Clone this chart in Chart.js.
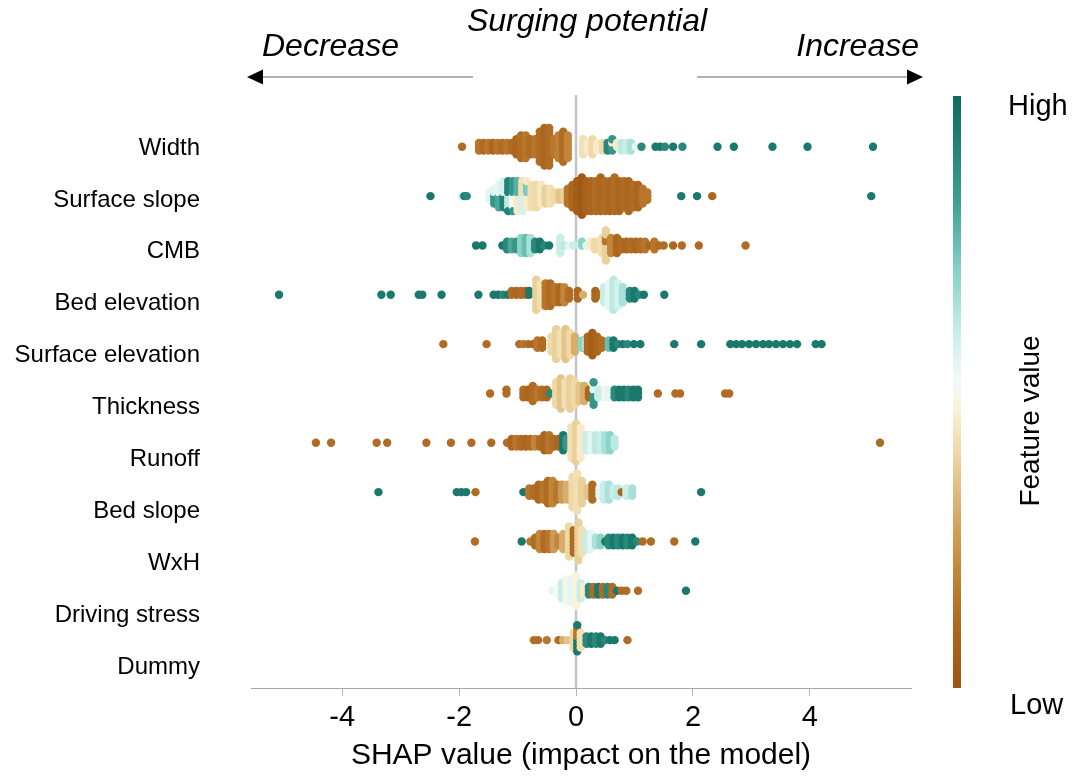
<!DOCTYPE html>
<html>
<head>
<meta charset="utf-8">
<script src="https://cdn.jsdelivr.net/npm/chart.js@4"></script>
<style>
  html, body { margin: 0; padding: 0; background: #fff; }
  canvas { display: block; }
</style>
</head>
<body>
<canvas id="shapChart" width="1083" height="776"></canvas>
<script>
// feature names, top to bottom
const features = ['Width', 'Surface slope', 'CMB', 'Bed elevation', 'Surface elevation',
  'Thickness', 'Runoff', 'Bed slope', 'WxH', 'Driving stress', 'Dummy'];
const xTicks = [-4, -2, 0, 2, 4];

// each entry: [shap value, feature value (0 low .. 1 high), number of samples]
const widthVals = [
  [-1.95, 0.12, 1],
  [-1.66, 0.15, 3], [-1.58, 0.12, 3], [-1.50, 0.15, 3], [-1.42, 0.10, 3], [-1.34, 0.15, 3],
  [-1.26, 0.12, 3], [-1.18, 0.15, 3], [-1.10, 0.12, 3],
  [-1.02, 0.10, 5], [-0.94, 0.12, 7], [-0.86, 0.15, 7], [-0.78, 0.12, 5], [-0.70, 0.15, 5],
  [-0.62, 0.12, 9], [-0.54, 0.10, 11], [-0.46, 0.12, 11], [-0.38, 0.15, 5],
  [-0.30, 0.18, 7], [-0.22, 0.12, 9], [-0.14, 0.20, 7],
  [0.12, 0.42, 5], [0.20, 0.45, 3], [0.28, 0.40, 5], [0.36, 0.45, 3], [0.46, 0.40, 3],
  [0.54, 0.90, 3], [0.62, 0.85, 3], [0.62, 0.45, 1], [0.70, 0.45, 2], [0.78, 0.62, 3],
  [0.86, 0.60, 3], [0.94, 0.65, 3], [1.02, 0.55, 1],
  [1.12, 0.90, 1], [1.36, 0.95, 1], [1.44, 0.95, 1], [1.52, 0.90, 1], [1.66, 0.95, 1],
  [1.82, 0.90, 1], [2.42, 0.95, 1], [2.70, 0.95, 1], [3.36, 0.95, 1], [3.96, 0.95, 1],
  [5.08, 0.95, 1]
];
const surfaceSlopeVals = [
  [-2.49, 0.95, 1], [-1.95, 0.60, 1], [-1.91, 0.95, 1], [-1.87, 0.90, 1],
  [-1.48, 0.55, 3], [-1.40, 0.85, 3], [-1.40, 0.55, 2], [-1.32, 0.80, 4], [-1.32, 0.55, 3],
  [-1.24, 0.92, 4], [-1.24, 0.58, 4], [-1.16, 0.62, 4], [-1.16, 0.92, 5],
  [-1.08, 0.52, 4], [-1.08, 0.85, 5], [-1.00, 0.45, 5], [-1.00, 0.78, 4],
  [-0.92, 0.58, 5], [-0.92, 0.42, 4], [-0.84, 0.45, 5], [-0.84, 0.72, 3],
  [-0.76, 0.42, 7], [-0.68, 0.40, 7], [-0.60, 0.44, 6], [-0.52, 0.38, 5],
  [-0.44, 0.42, 5], [-0.36, 0.40, 3], [-0.28, 0.35, 3], [-0.20, 0.38, 3],
  [-0.14, 0.15, 5], [-0.06, 0.10, 7], [0.02, 0.05, 9], [0.10, 0.02, 11], [0.18, 0.08, 9],
  [0.26, 0.10, 9], [0.34, 0.12, 9], [0.42, 0.10, 10], [0.50, 0.12, 9], [0.58, 0.10, 9],
  [0.66, 0.12, 10], [0.74, 0.10, 9], [0.82, 0.12, 8], [0.90, 0.10, 9], [0.98, 0.12, 7],
  [1.06, 0.10, 7], [1.14, 0.15, 5], [1.22, 0.15, 3],
  [1.80, 0.95, 1], [2.07, 0.95, 1], [2.33, 0.10, 1], [5.05, 0.95, 1]
];
const cmbVals = [
  [-1.71, 0.95, 1], [-1.60, 0.95, 1],
  [-1.26, 0.95, 1], [-1.18, 0.90, 3], [-1.10, 0.80, 3], [-1.02, 0.85, 3], [-0.94, 0.70, 5],
  [-0.86, 0.75, 5], [-0.78, 0.65, 5], [-0.70, 0.90, 3], [-0.62, 0.95, 3], [-0.54, 0.90, 1],
  [-0.46, 0.95, 1], [-0.27, 0.60, 5], [-0.20, 0.62, 1], [-0.12, 0.55, 1], [-0.04, 0.60, 1],
  [0.10, 0.70, 2], [0.18, 0.55, 1], [0.25, 0.45, 2], [0.32, 0.40, 3],
  [0.44, 0.42, 5], [0.51, 0.38, 7], [0.51, 0.15, 2],
  [0.60, 0.20, 5], [0.70, 0.10, 5], [0.78, 0.12, 3], [0.86, 0.10, 3], [0.94, 0.12, 3],
  [1.02, 0.10, 3], [1.10, 0.12, 3], [1.18, 0.15, 3], [1.26, 0.10, 1], [1.34, 0.15, 3],
  [1.42, 0.12, 1], [1.50, 0.12, 1], [1.66, 0.10, 1], [1.81, 0.12, 1], [2.10, 0.12, 1],
  [2.90, 0.12, 1]
];
const bedElevationVals = [
  [-5.08, 0.95, 1], [-3.33, 0.95, 1], [-3.17, 0.95, 1], [-2.69, 0.95, 1], [-2.63, 0.95, 1],
  [-2.30, 0.95, 1], [-1.67, 0.95, 1], [-1.41, 0.95, 1], [-1.33, 0.95, 1], [-1.25, 0.90, 1],
  [-1.17, 0.95, 1], [-1.10, 0.12, 2], [-1.02, 0.10, 2], [-0.94, 0.12, 2], [-0.86, 0.10, 2],
  [-0.80, 0.95, 2], [-0.68, 0.38, 9], [-0.60, 0.42, 7],
  [-0.52, 0.15, 7], [-0.44, 0.12, 7], [-0.36, 0.15, 5], [-0.28, 0.10, 5], [-0.20, 0.20, 5],
  [-0.12, 0.12, 3], [0.03, 0.10, 3], [0.12, 0.30, 1], [0.33, 0.10, 3], [0.40, 0.12, 1],
  [0.48, 0.60, 5], [0.56, 0.55, 7], [0.64, 0.62, 9], [0.72, 0.58, 7], [0.80, 0.65, 5],
  [0.92, 0.90, 3], [1.00, 0.95, 3], [1.08, 0.90, 1], [1.16, 0.95, 1], [1.51, 0.95, 1]
];
const surfaceElevationVals = [
  [-2.27, 0.12, 1], [-1.53, 0.12, 1], [-0.97, 0.12, 1], [-0.90, 0.15, 1], [-0.82, 0.12, 1],
  [-0.74, 0.10, 1], [-0.66, 0.15, 3], [-0.58, 0.12, 3],
  [-0.42, 0.40, 5], [-0.34, 0.38, 9], [-0.26, 0.42, 7], [-0.18, 0.35, 9], [-0.10, 0.40, 7],
  [-0.02, 0.30, 5], [0.10, 0.70, 3], [0.18, 0.55, 3], [0.20, 0.10, 5], [0.28, 0.05, 7],
  [0.36, 0.10, 5], [0.44, 0.12, 3], [0.56, 0.75, 3], [0.64, 0.95, 3], [0.72, 0.90, 1],
  [0.80, 0.95, 1], [0.88, 0.90, 1], [0.99, 0.95, 1], [1.10, 0.95, 1], [1.68, 0.95, 1],
  [2.14, 0.95, 1], [2.64, 0.95, 1], [2.74, 0.95, 1], [2.84, 0.95, 1], [2.96, 0.95, 1],
  [3.08, 0.95, 1], [3.20, 0.95, 1], [3.30, 0.95, 1], [3.42, 0.95, 1], [3.54, 0.95, 1],
  [3.66, 0.95, 1], [3.78, 0.95, 1], [4.10, 0.95, 1], [4.20, 0.95, 1]
];
const thicknessVals = [
  [-1.47, 0.12, 1], [-1.19, 0.12, 2], [-0.90, 0.12, 3], [-0.82, 0.10, 3], [-0.74, 0.12, 5],
  [-0.66, 0.15, 3], [-0.58, 0.12, 3], [-0.50, 0.10, 3], [-0.44, 0.90, 1],
  [-0.34, 0.40, 7], [-0.26, 0.35, 9], [-0.18, 0.42, 7], [-0.10, 0.38, 9], [-0.02, 0.40, 7],
  [0.06, 0.35, 5], [0.14, 0.30, 5], [0.22, 0.10, 3], [0.30, 0.85, 5], [0.30, 0.55, 2],
  [0.38, 0.60, 3], [0.50, 0.50, 3], [0.56, 0.55, 3],
  [0.66, 0.90, 3], [0.74, 0.95, 3], [0.82, 0.95, 3], [0.90, 0.90, 3], [0.98, 0.95, 3],
  [1.06, 0.95, 3], [1.40, 0.12, 1], [1.70, 0.12, 1], [1.78, 0.12, 1], [2.55, 0.12, 1],
  [2.62, 0.12, 1]
];
const runoffVals = [
  [-4.45, 0.12, 1], [-4.19, 0.12, 1], [-3.41, 0.12, 1], [-3.23, 0.12, 1], [-2.56, 0.12, 1],
  [-2.14, 0.12, 1], [-1.79, 0.12, 1], [-1.45, 0.12, 1],
  [-1.18, 0.12, 1], [-1.10, 0.10, 3], [-1.02, 0.15, 3], [-0.94, 0.12, 3], [-0.86, 0.10, 3],
  [-0.78, 0.12, 3], [-0.70, 0.20, 3], [-0.62, 0.12, 3], [-0.54, 0.10, 5], [-0.46, 0.15, 5],
  [-0.38, 0.12, 3], [-0.30, 0.10, 3], [-0.22, 0.95, 5], [-0.16, 0.85, 3],
  [-0.08, 0.42, 9], [0.00, 0.38, 11], [0.08, 0.45, 9],
  [0.18, 0.60, 5], [0.26, 0.55, 5], [0.34, 0.62, 5], [0.42, 0.60, 5], [0.50, 0.65, 5],
  [0.58, 0.70, 5], [0.66, 0.62, 3], [5.20, 0.12, 1]
];
const bedSlopeVals = [
  [-3.38, 0.95, 1], [-2.04, 0.95, 1], [-1.96, 0.95, 1], [-1.88, 0.95, 1], [-1.72, 0.12, 1],
  [-0.90, 0.95, 1], [-0.80, 0.15, 3], [-0.72, 0.12, 3], [-0.64, 0.10, 5], [-0.56, 0.15, 5],
  [-0.48, 0.12, 7], [-0.40, 0.20, 7], [-0.32, 0.15, 5], [-0.24, 0.25, 5], [-0.16, 0.30, 5],
  [-0.06, 0.40, 9], [0.02, 0.42, 11], [0.10, 0.38, 7], [0.20, 0.35, 3], [0.28, 0.12, 5],
  [0.40, 0.55, 3], [0.48, 0.60, 5], [0.56, 0.65, 5], [0.64, 0.60, 3], [0.72, 0.62, 3],
  [0.78, 0.10, 1], [0.86, 0.60, 3], [0.96, 0.65, 3], [2.14, 0.95, 1]
];
const wxhVals = [
  [-1.73, 0.12, 1], [-0.93, 0.95, 1], [-0.78, 0.15, 1], [-0.70, 0.12, 3], [-0.62, 0.20, 5],
  [-0.54, 0.12, 5], [-0.46, 0.15, 5], [-0.38, 0.25, 5], [-0.30, 0.20, 3], [-0.22, 0.30, 5],
  [-0.12, 0.40, 9], [-0.04, 0.12, 7], [0.04, 0.38, 11], [0.10, 0.42, 7],
  [0.18, 0.60, 5], [0.26, 0.55, 5], [0.34, 0.65, 3], [0.42, 0.70, 3],
  [0.50, 0.95, 1], [0.56, 0.90, 3], [0.64, 0.95, 3], [0.72, 0.90, 3], [0.80, 0.95, 3],
  [0.88, 0.90, 3], [0.96, 0.95, 3], [1.04, 0.90, 1], [1.14, 0.12, 1], [1.28, 0.12, 1],
  [1.68, 0.12, 1], [2.04, 0.95, 1]
];
const drivingStressVals = [
  [-0.40, 0.55, 1], [-0.32, 0.52, 3], [-0.24, 0.60, 5], [-0.16, 0.50, 7], [-0.08, 0.55, 7],
  [0.00, 0.48, 9], [0.08, 0.60, 5], [0.14, 0.45, 3],
  [0.22, 0.90, 3], [0.30, 0.12, 3], [0.38, 0.95, 3], [0.46, 0.12, 3], [0.54, 0.90, 3],
  [0.62, 0.12, 3], [0.70, 0.95, 1], [0.78, 0.12, 1], [0.86, 0.12, 1], [1.06, 0.12, 1],
  [1.88, 0.95, 1]
];
const dummyVals = [
  [-0.72, 0.12, 1], [-0.65, 0.12, 1], [-0.50, 0.15, 1], [-0.30, 0.12, 1], [-0.22, 0.30, 1],
  [-0.14, 0.35, 1], [-0.04, 0.40, 5], [0.02, 0.95, 5], [0.02, 0.15, 3], [0.08, 0.42, 5],
  [0.18, 0.90, 3], [0.26, 0.95, 3], [0.34, 0.90, 3], [0.42, 0.95, 3], [0.50, 0.90, 1],
  [0.58, 0.95, 1], [0.66, 0.95, 1], [0.88, 0.12, 1]
];

const rows = [widthVals, surfaceSlopeVals, cmbVals, bedElevationVals, surfaceElevationVals,
  thicknessVals, runoffVals, bedSlopeVals, wxhVals, drivingStressVals, dummyVals];

// brown -> white -> teal, low to high feature value
const cmapStops = [
  [0.00, [156, 86, 18]], [0.10, [172, 102, 30]], [0.20, [194, 134, 58]], [0.30, [216, 174, 108]],
  [0.40, [239, 217, 166]], [0.47, [251, 241, 216]], [0.52, [243, 251, 248]],
  [0.60, [201, 238, 232]], [0.70, [138, 212, 200]], [0.82, [62, 159, 146]], [1.00, [14, 106, 94]]
];

function cmap(t) {
  for (let i = 1; i < cmapStops.length; i++) {
    const [t1, c1] = cmapStops[i];
    const [t0, c0] = cmapStops[i - 1];
    if (t <= t1) {
      const f = (t - t0) / (t1 - t0);
      const c = c0.map((v, k) => Math.round(v + (c1[k] - v) * f));
      return `rgb(${c[0]},${c[1]},${c[2]})`;
    }
  }
  const c = cmapStops[cmapStops.length - 1][1];
  return `rgb(${c[0]},${c[1]},${c[2]})`;
}

// samples sharing a shap value are stacked vertically, alternating up and down
const layerStep = 0.076;
function swarm(groups, row) {
  const stacks = new Map();
  groups.forEach(([x, c, n]) => {
    if (!stacks.has(x)) stacks.set(x, []);
    stacks.get(x).push({ c, n });
  });
  const pts = [];
  stacks.forEach((list, x) => {
    const left = list.map(g => g.n);
    const seq = [];
    while (left.some(k => k > 0)) {
      list.forEach((g, i) => { if (left[i] > 0) { seq.push(g.c); left[i]--; } });
    }
    seq.forEach((c, layer) => {
      const off = Math.ceil(layer / 2) * (layer % 2 ? -1 : 1);
      pts.push({ x: x, y: row + off * layerStep, c: c });
    });
  });
  return pts;
}

const datasets = rows.map((groups, i) => {
  const pts = swarm(groups, i);
  return {
    label: features[i],
    data: pts.map(p => ({ x: p.x, y: p.y })),
    backgroundColor: pts.map(p => cmap(p.c)),
    pointRadius: 4.2,
    pointHoverRadius: 4.2,
    borderWidth: 0
  };
});

const FONT = "'Liberation Sans', Arial, sans-serif";

// gray line at zero, behind the dots
const zeroLine = {
  id: 'zeroLine',
  beforeDatasetsDraw(chart) {
    const { ctx, chartArea, scales } = chart;
    const x = scales.x.getPixelForValue(0);
    ctx.save();
    ctx.strokeStyle = '#c4c4c4';
    ctx.lineWidth = 2.5;
    ctx.beginPath();
    ctx.moveTo(x, chartArea.top);
    ctx.lineTo(x, chartArea.bottom);
    ctx.stroke();
    ctx.restore();
  }
};

// arrows and headings above the plot, colour bar on the right
const decorations = {
  id: 'decorations',
  afterDraw(chart) {
    const { ctx, chartArea } = chart;
    ctx.save();
    ctx.fillStyle = '#000';
    ctx.font = `italic 32px ${FONT}`;
    ctx.textBaseline = 'middle';
    ctx.textAlign = 'center';
    ctx.fillText('Surging potential', 587, 22);
    ctx.textAlign = 'left';
    ctx.fillText('Decrease', 262, 47);
    ctx.textAlign = 'right';
    ctx.fillText('Increase', 919, 47);

    const ay = 77;
    ctx.strokeStyle = '#9a9a9a';
    ctx.lineWidth = 1.5;
    ctx.beginPath();
    ctx.moveTo(262, ay); ctx.lineTo(473, ay);
    ctx.moveTo(697, ay); ctx.lineTo(908, ay);
    ctx.stroke();
    ctx.fillStyle = '#000';
    ctx.beginPath();
    ctx.moveTo(247, ay); ctx.lineTo(263, ay - 7.5); ctx.lineTo(263, ay + 7.5); ctx.closePath();
    ctx.moveTo(923, ay); ctx.lineTo(907, ay - 7.5); ctx.lineTo(907, ay + 7.5); ctx.closePath();
    ctx.fill();

    // colour bar
    const bx = chartArea.right + 42, bw = 8;
    const top = chartArea.top + 1, bottom = chartArea.bottom;
    const grad = ctx.createLinearGradient(0, bottom, 0, top);
    cmapStops.forEach(([t]) => grad.addColorStop(t, cmap(t)));
    ctx.fillStyle = grad;
    ctx.fillRect(bx, top, bw, bottom - top);

    ctx.fillStyle = '#000';
    ctx.font = `29px ${FONT}`;
    ctx.textAlign = 'left';
    ctx.fillText('High', 1008, 107);
    ctx.fillText('Low', 1010, 706);
    ctx.translate(1031, 421);
    ctx.rotate(-Math.PI / 2);
    ctx.textAlign = 'center';
    ctx.font = `28px ${FONT}`;
    ctx.fillText('Feature value', 0, 0);
    ctx.restore();
  }
};

new Chart(document.getElementById('shapChart'), {
  type: 'scatter',
  data: { datasets: datasets },
  options: {
    responsive: false,
    animation: false,
    events: [],
    layout: { padding: { top: 95, right: 172, left: 0, bottom: 0 } },
    plugins: { legend: { display: false }, tooltip: { enabled: false } },
    scales: {
      x: {
        type: 'linear',
        position: 'bottom',
        min: -5.56,
        max: 5.73,
        afterBuildTicks: s => { s.ticks = xTicks.map(v => ({ value: v })); },
        afterFit: s => { s.height = 88; },
        grid: { drawOnChartArea: false, tickLength: 8, color: '#b5b5b5' },
        border: { color: '#a8a8a8', width: 1 },
        ticks: { color: '#000', padding: 5, font: { family: FONT, size: 29 } },
        title: {
          display: true,
          text: 'SHAP value (impact on the model)',
          color: '#000',
          font: { family: FONT, size: 30 },
          padding: { top: 0, bottom: 2 }
        }
      },
      y: { type: 'linear', reverse: true, min: -1.05, max: 10.97, display: false },
      yl: {
        type: 'linear',
        position: 'left',
        reverse: true,
        min: -1.02,
        max: 10.4,
        afterBuildTicks: s => { s.ticks = features.map((f, i) => ({ value: i })); },
        afterFit: s => { s.width = 251; },
        grid: { display: false, drawTicks: false },
        border: { display: false },
        ticks: {
          color: '#000',
          padding: 51,
          font: { family: FONT, size: 24 },
          callback: v => features[v]
        }
      }
    }
  },
  plugins: [zeroLine, decorations]
});
</script>
</body>
</html>
